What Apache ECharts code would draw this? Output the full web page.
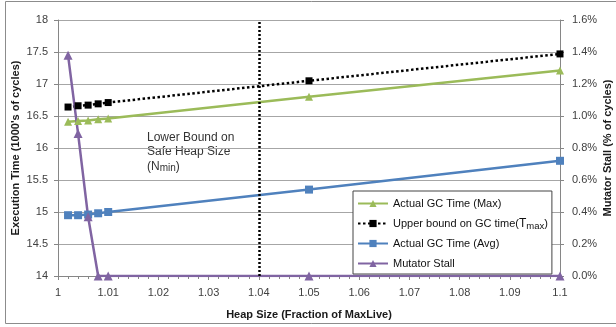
<!DOCTYPE html>
<html>
<head>
<meta charset="utf-8">
<script src="https://cdn.jsdelivr.net/npm/echarts@6/dist/echarts.min.js"></script>
<style>
html,body{margin:0;padding:0;background:#fff;}
#c{width:616px;height:327px;}
</style>
</head>
<body>
<div id="c"></div>
<script>
var heapSize = [1.002, 1.004, 1.006, 1.008, 1.01, 1.05, 1.1];
var gcMax = [16.41, 16.42, 16.43, 16.45, 16.46, 16.80, 17.21];
var gcUpper = [16.64, 16.66, 16.67, 16.69, 16.71, 17.05, 17.47];
var gcAvg = [14.95, 14.95, 14.96, 14.98, 15.00, 15.35, 15.80];
var mutatorStall = [1.38, 0.89, 0.37, 0, 0, 0, 0];
var nMin = 1.037;

var names = ['Actual GC Time (Max)', 'Upper bound on GC time(T_max)', 'Actual GC Time (Avg)', 'Mutator Stall'];

function pairs(ys){ return heapSize.map(function(x,i){ return [x, ys[i]]; }); }

var FONT = 'Liberation Sans, Arial, sans-serif';
var chart = echarts.init(document.getElementById('c'));
chart.setOption({
  animation: false,
  backgroundColor: '#fff',
  grid: {left: 58, right: 56, top: 20, bottom: 51, containLabel: false, outerBoundsMode: 'none'},
  xAxis: {
    type: 'value', min: 1, max: 1.1, interval: 0.01,
    name: 'Heap Size (Fraction of MaxLive)', nameLocation: 'middle', nameGap: 33,
    nameMoveOverlap: false,
    nameTextStyle: {fontFamily: FONT, fontSize: 11, fontWeight: 'bold', color: '#1a1a1a'},
    axisLine: {show: true, lineStyle: {color: '#868686'}},
    axisTick: {show: true, length: 4, lineStyle: {color: '#868686'}},
    minorTick: {show: true, splitNumber: 5, length: 3, lineStyle: {color: '#868686'}},
    splitLine: {show: false},
    axisLabel: {fontFamily: FONT, fontSize: 11, color: '#404040', margin: 11,
      formatter: function(v){ return String(+v.toFixed(2)); }}
  },
  yAxis: [{
    type: 'value', min: 14, max: 18, interval: 0.5,
    name: "Execution Time (1000's of cycles)", nameLocation: 'middle', nameGap: 37,
    nameMoveOverlap: false,
    nameTextStyle: {fontFamily: FONT, fontSize: 11, fontWeight: 'bold', color: '#1a1a1a'},
    axisLine: {show: true, lineStyle: {color: '#868686'}},
    axisTick: {show: true, length: 4, lineStyle: {color: '#868686'}},
    splitLine: {show: true, lineStyle: {color: '#a6a6a6', width: 1}},
    axisLabel: {fontFamily: FONT, fontSize: 11, color: '#404040', margin: 10}
  }, {
    type: 'value', min: 0, max: 1.6, interval: 0.2, position: 'right',
    name: 'Mutator Stall (% of cycles)', nameLocation: 'middle', nameGap: 42,
    nameMoveOverlap: false,
    nameTextStyle: {fontFamily: FONT, fontSize: 11, fontWeight: 'bold', color: '#1a1a1a'},
    axisLine: {show: true, lineStyle: {color: '#868686'}},
    axisTick: {show: true, length: 4, lineStyle: {color: '#868686'}},
    splitLine: {show: false},
    axisLabel: {fontFamily: FONT, fontSize: 11, color: '#404040', margin: 12,
      formatter: function(v){ return v.toFixed(1) + '%'; }}
  }],
  legend: {
    orient: 'vertical', left: 353, top: 191,
    itemWidth: 30, itemHeight: 9, itemGap: 5,
    padding: [5, 4, 3, 4],
    borderColor: '#444', borderWidth: 1, backgroundColor: '#fff',
    data: names,
    textStyle: {fontFamily: FONT, fontSize: 11, color: '#111', lineHeight: 15,
      rich: {
        t: {fontFamily: FONT, fontSize: 12, color: '#111', lineHeight: 15},
        s: {fontFamily: FONT, fontSize: 9.5, color: '#111', lineHeight: 9, verticalAlign: 'bottom'}
      }},
    formatter: function(n){
      if (n === names[1]) return 'Upper bound on GC time({t|T}{s|max})';
      return n;
    }
  },
  graphic: [{
    type: 'rect', silent: true, z: -1,
    shape: {x: 5.5, y: 1.5, width: 640, height: 322},
    style: {fill: 'none', stroke: '#8c8c8c', lineWidth: 1}
  }, {
    type: 'text', left: 147, top: 130, silent: true,
    style: {
      text: 'Lower Bound on\nSafe Heap Size\n({a|N}{s|min})',
      fontFamily: FONT, fontSize: 12, lineHeight: 14.5, fill: '#333',
      rich: {
        a: {fontFamily: FONT, fontSize: 12, fill: '#333', lineHeight: 14.5},
        s: {fontFamily: FONT, fontSize: 10, fill: '#333', lineHeight: 9, verticalAlign: 'bottom'}
      }
    }
  }],
  series: [{
    name: names[0], type: 'line', data: pairs(gcMax),
    symbol: 'triangle', symbolSize: 8, showSymbol: true,
    itemStyle: {color: '#9bbb59'}, lineStyle: {color: '#9bbb59', width: 2.5},
    markLine: {
      silent: true, symbol: 'none', label: {show: false},
      lineStyle: {color: '#000', type: [2, 2], width: 2.5},
      data: [{xAxis: nMin}]
    }
  }, {
    name: names[1], type: 'line', data: pairs(gcUpper),
    symbol: 'rect', symbolSize: 7,
    itemStyle: {color: '#000'}, lineStyle: {color: '#000', width: 2.5, type: [2.5, 2.5]}
  }, {
    name: names[2], type: 'line', data: pairs(gcAvg),
    symbol: 'rect', symbolSize: 8,
    itemStyle: {color: '#4f81bd'}, lineStyle: {color: '#4f81bd', width: 2.5}
  }, {
    name: names[3], type: 'line', yAxisIndex: 1, data: pairs(mutatorStall),
    symbol: 'triangle', symbolSize: 9,
    itemStyle: {color: '#8064a2'}, lineStyle: {color: '#8064a2', width: 2.5}
  }]
});
</script>
</body>
</html>
